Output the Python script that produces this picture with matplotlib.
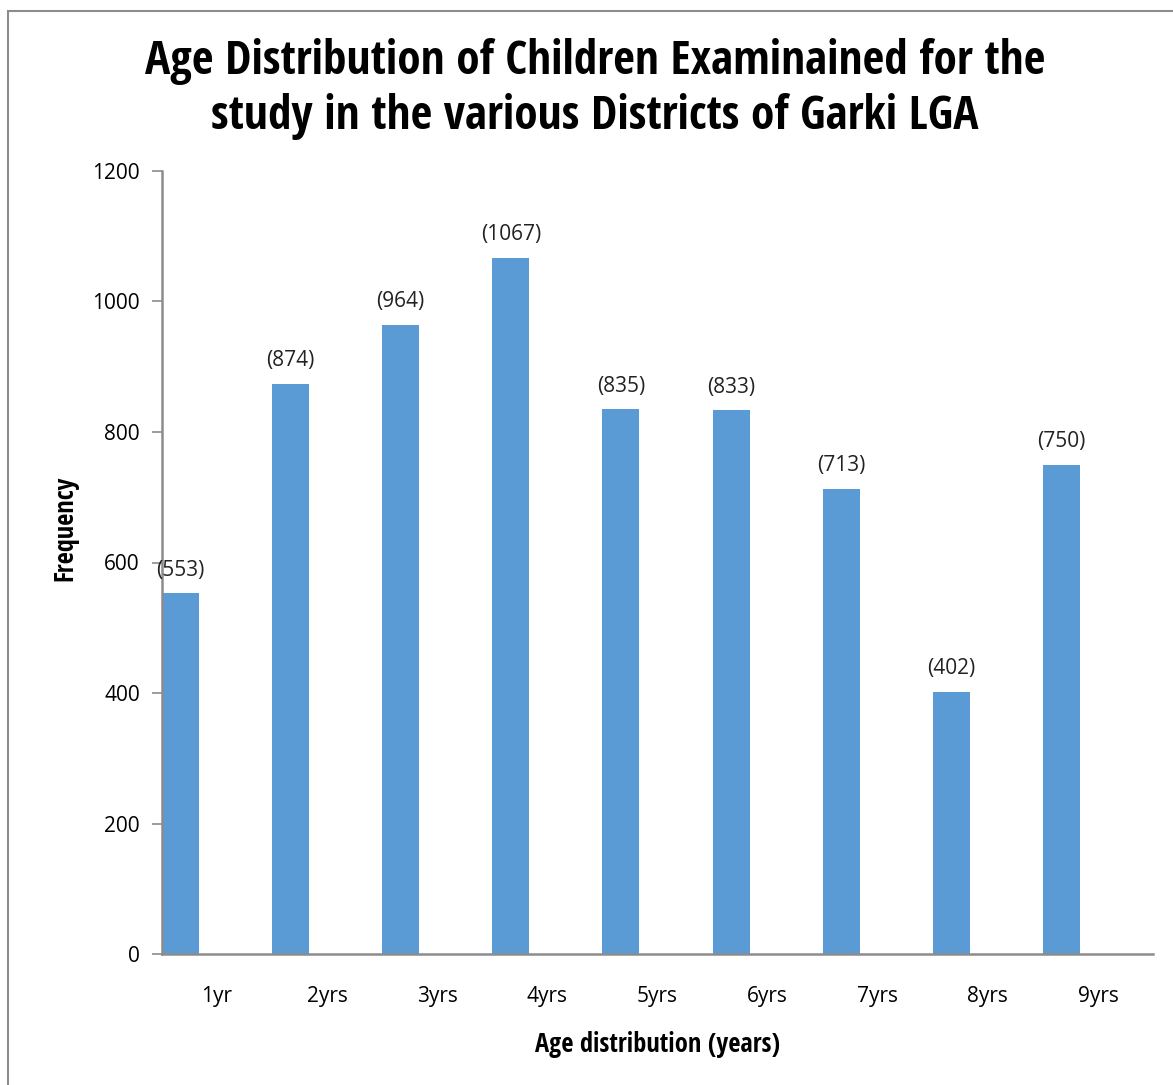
import matplotlib
matplotlib.use("Agg")
import matplotlib.pyplot as plt
import numpy as np
from matplotlib.patches import Rectangle

categories = ["1yr", "2yrs", "3yrs", "4yrs", "5yrs", "6yrs", "7yrs", "8yrs", "9yrs"]
values = [553, 874, 964, 1067, 835, 833, 713, 402, 750]
data_labels = ["(553)", "(874)", "(964)", "(1067)", "(835)", "(833)", "(713)", "(402)", "(750)"]
y_ticks = [0, 200, 400, 600, 800, 1000, 1200]

REG = ['Open Sans', 'DejaVu Sans']
BOLD = ['Open Sans Condensed', 'PT Sans Narrow', 'DejaVu Sans']
plt.rcParams['font.family'] = REG

W, H = 1173, 1085
fig = plt.figure(figsize=(W / 100, H / 100), dpi=100)
fig.patch.set_facecolor("white")

# outer chart frame
fig.add_artist(Rectangle((8 / W, -0.05), 1.2, (H - 11) / H + 0.05,
                         transform=fig.transFigure, fill=False,
                         edgecolor="#8c8c8c", linewidth=1.5))

ax = fig.add_axes([162 / W, (H - 954) / H, (1153 - 162) / W, (954 - 171) / H])

bar_w = 0.336
x = np.arange(len(categories))
pos = x - 0.5 + bar_w / 2
ax.bar(pos, values, width=bar_w, color="#5b9bd5", edgecolor="none", zorder=2)

for p, v, lab in zip(pos, values, data_labels):
    ax.annotate(lab, (p, v), xytext=(0, 9), textcoords="offset points",
                ha="center", va="bottom", fontsize=15, color="#222222")

ax.set_xlim(-0.5, len(categories) - 0.5)
ax.set_ylim(0, 1200)
ax.set_yticks(y_ticks)
ax.set_yticklabels([str(t) for t in y_ticks], fontsize=15)
ax.set_xticks(x)
ax.set_xticklabels(categories, fontsize=15)
ax.tick_params(axis="x", length=0, pad=23)
ax.tick_params(axis="y", length=7, width=1.2, color="#8c8c8c", pad=9, direction="out")

for s in ["top", "right"]:
    ax.spines[s].set_visible(False)
for s in ["left", "bottom"]:
    ax.spines[s].set_color("#8c8c8c")
    ax.spines[s].set_linewidth(1.8)

ax.set_ylabel("Frequency", fontsize=19, fontweight="bold", family=BOLD, labelpad=10, y=0.544)
ax.set_xlabel("Age distribution (years)", fontsize=19, fontweight="bold", family=BOLD, labelpad=17)

fig.text(595 / W, 1 - 89 / H,
         "Age Distribution of Children Examinained for the\nstudy in the various Districts of Garki LGA",
         ha="center", va="center", fontsize=34, fontweight="bold", family=BOLD, linespacing=1.2)

fig.savefig("out.png", dpi=100, facecolor="white")
